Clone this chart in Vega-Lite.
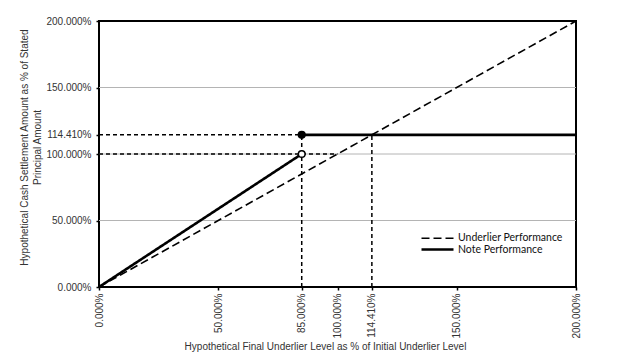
{
  "$schema": "https://vega.github.io/schema/vega-lite/v6.json",
  "width": 477,
  "height": 266,
  "autosize": {"type": "none"},
  "padding": {"left": 99, "top": 21, "right": 48, "bottom": 73},
  "background": "white",
  "config": {
    "view": {"stroke": "black", "strokeWidth": 2},
    "axis": {
      "labelFont": "Liberation Sans",
      "labelFontSize": 10,
      "labelColor": "#333333",
      "titleFont": "Liberation Sans",
      "titleFontSize": 10,
      "titleFontWeight": "normal",
      "titleColor": "#333333",
      "tickColor": "black",
      "tickSize": 3,
      "tickWidth": 1.5,
      "domain": false,
      "grid": false
    }
  },
  "datasets": {
    "grid": [{"y": 50}, {"y": 100}, {"y": 150}],
    "refs": [
      {"x": 0, "x2": 85, "y": 114.41, "y2": 114.41},
      {"x": 0, "x2": 100, "y": 100, "y2": 100},
      {"x": 85, "x2": 85, "y": 0, "y2": 114.41},
      {"x": 114.41, "x2": 114.41, "y": 0, "y2": 114.41}
    ],
    "lines": [
      {"series": "Underlier Performance", "seg": "u", "x": 0, "y": 0},
      {"series": "Underlier Performance", "seg": "u", "x": 200, "y": 200},
      {"series": "Note Performance", "seg": "n1", "x": 0, "y": 0},
      {"series": "Note Performance", "seg": "n1", "x": 85, "y": 100},
      {"series": "Note Performance", "seg": "n2", "x": 85, "y": 114.41},
      {"series": "Note Performance", "seg": "n2", "x": 200, "y": 114.41}
    ],
    "pts": [
      {"kind": "filled", "x": 85, "y": 114.41},
      {"kind": "open", "x": 85, "y": 100}
    ]
  },
  "encoding": {
    "x": {
      "field": "x", "type": "quantitative",
      "scale": {"domain": [0, 200], "nice": false, "zero": false},
      "axis": {
        "values": [0, 50, 85, 100, 114.41, 150, 200],
        "labelExpr": "format(datum.value, '.3f') + '%'",
        "labelAngle": -90,
        "labelAlign": "right",
        "labelBaseline": "middle",
        "labelPadding": 3,
        "title": "Hypothetical Final Underlier Level as % of Initial Underlier Level",
        "titleX": 226,
        "titleY": 59,
        "titleAlign": "center",
        "titleBaseline": "middle"
      }
    },
    "y": {
      "field": "y", "type": "quantitative",
      "scale": {"domain": [0, 200], "nice": false, "zero": false},
      "axis": {
        "values": [0, 50, 100, 114.41, 150, 200],
        "labelExpr": "format(datum.value, '.3f') + '%'",
        "labelPadding": 5,
        "title": ["Hypothetical Cash Settlement Amount as % of Stated", "Principal Amount"],
        "titleX": -80,
        "titleY": 126,
        "titleAngle": -90,
        "titleAlign": "center",
        "titleBaseline": "top",
        "titleLineHeight": 13
      }
    }
  },
  "layer": [
    {
      "data": {"name": "grid"},
      "mark": {"type": "rule", "color": "#b4b4b4", "strokeWidth": 1},
      "encoding": {
        "x": null
      }
    },
    {
      "data": {"name": "refs"},
      "mark": {"type": "rule", "color": "black", "strokeWidth": 1.5, "strokeDash": [4, 3]},
      "encoding": {
        "x2": {"field": "x2"},
        "y2": {"field": "y2"}
      }
    },
    {
      "data": {"name": "lines"},
      "mark": {"type": "line", "color": "black"},
      "encoding": {
        "detail": {"field": "seg"},
        "strokeDash": {
          "field": "series", "type": "nominal",
          "scale": {"domain": ["Underlier Performance", "Note Performance"], "range": [[8, 4], [1, 0]]},
          "legend": {
            "title": null,
            "orient": "none",
            "legendX": 333,
            "legendY": 212,
            "symbolType": "M-4,0H4",
            "symbolSize": 64,
            "symbolStrokeColor": "black",
            "symbolStrokeWidth": 1.8,
            "labelFont": "Lato",
            "labelFontSize": 10.5,
            "labelColor": "#111111",
            "rowPadding": -1,
            "labelOffset": 15
          }
        },
        "strokeWidth": {
          "field": "series", "type": "nominal",
          "scale": {"domain": ["Underlier Performance", "Note Performance"], "range": [1.6, 2.6]},
          "legend": null
        }
      }
    },
    {
      "data": {"name": "pts"},
      "mark": {"type": "point", "filled": false, "stroke": "black", "strokeWidth": 1.5, "size": 45, "opacity": 1},
      "encoding": {
        "fill": {
          "field": "kind", "type": "nominal",
          "scale": {"domain": ["filled", "open"], "range": ["black", "white"]},
          "legend": null
        }
      }
    }
  ]
}
